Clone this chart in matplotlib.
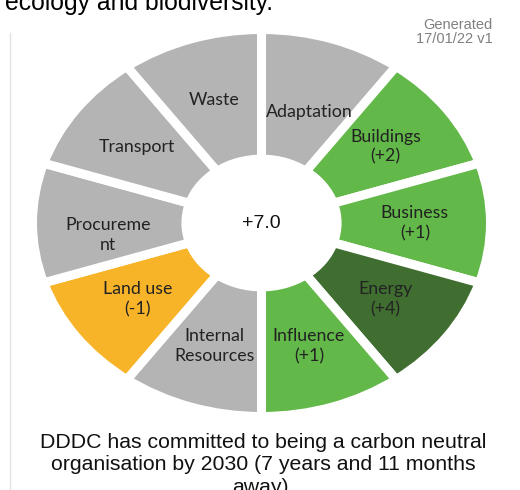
import numpy as np
import matplotlib.pyplot as plt

categories = ['Adaptation', 'Buildings\n(+2)', 'Business\n(+1)', 'Energy\n(+4)',
              'Influence\n(+1)', 'Internal\nResources', 'Land use\n(-1)',
              'Procureme\nnt', 'Transport', 'Waste']
scores = [0, 2, 1, 4, 1, 0, -1, 0, 0, 0]
sizes = [1] * len(categories)
total = '+7.0'


def score_colour(s):
    if s >= 4:
        return '#3F6E30'
    if s > 0:
        return '#62B848'
    if s < 0:
        return '#F8B428'
    return '#B4B4B4'


colours = [score_colour(s) for s in scores]

fig = plt.figure(figsize=(5.2, 4.9), dpi=100)
ax = fig.add_axes([32.5 / 520, 73.5 / 490, 458 / 520, 387 / 490])

wedges, texts = ax.pie(sizes, colors=colours, startangle=90, counterclock=False,
                       radius=1.0, labels=categories, labeldistance=0.67,
                       wedgeprops=dict(width=0.67, edgecolor='white', linewidth=6.5),
                       textprops=dict(fontsize=12.8, family='Lato', color='#222222',
                                      linespacing=1.3))
for t in texts:
    t.set_ha('center')
    t.set_va('center')

# excel drops these two labels a little lower
for i in (0, 7):
    x, y = texts[i].get_position()
    texts[i].set_position((x, y - 0.062))

ax.set_aspect('auto')
ax.set_xlim(-1, 1)
ax.set_ylim(-1, 1)
ax.axis('off')

ax.text(0, 0, total, ha='center', va='center', fontsize=14,
        family='Liberation Sans', color='#111111')

# text around the chart
fig.text(5 / 520, 1 - 10 / 490, 'ecology and biodiversity.', ha='left', va='baseline',
         fontsize=17.8, family='Liberation Sans', color='black')
fig.text(493 / 520, 1 - 18 / 490, 'Generated\n17/01/22 v1', ha='right', va='top',
         fontsize=10.5, family='Liberation Sans', color='#808080', linespacing=1.0)
fig.text(263 / 520, 1 - 433 / 490,
         'DDDC has committed to being a carbon neutral\norganisation by 2030 (7 years and 11 months\naway).',
         ha='center', va='top', fontsize=15.3, family='Liberation Sans', color='#111111',
         linespacing=1.22)
fig.add_artist(plt.Line2D([9.5 / 520, 9.5 / 520], [0, 1 - 33 / 490], color='#E2E2E2', lw=1))

fig.savefig('out.png', dpi=100)
